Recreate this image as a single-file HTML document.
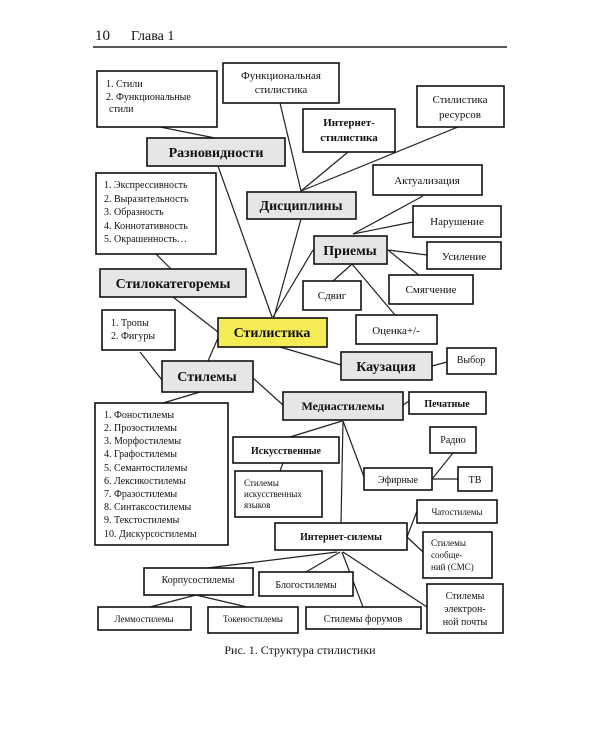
<!DOCTYPE html>
<html><head><meta charset="utf-8"><style>
html,body{margin:0;padding:0;background:#fff;}
svg{display:block;}
text{font-family:"Liberation Serif","Noto Serif CJK SC",serif;fill:#111;}
.b{font-weight:bold;font-size:14px;}
.m{font-size:11px;}
.s{font-size:10px;}
rect{stroke:#111;stroke-width:1.6;}
.w{fill:#fff;}
.g{fill:#e6e6e6;}
line{stroke:#222;stroke-width:1.2;}
</style></head><body>
<svg width="600" height="750" viewBox="0 0 600 750" xmlns="http://www.w3.org/2000/svg">
<text x="95" y="40" style="font-size:15px">10</text>
<text x="131" y="40" style="font-size:14px">Глава 1</text>
<line x1="93" y1="47" x2="507" y2="47" style="stroke-width:1.5"/>

<g>
<line x1="160" y1="127" x2="215" y2="138"/>
<line x1="218" y1="166" x2="272" y2="317"/>
<line x1="280" y1="103" x2="301" y2="191"/>
<line x1="348" y1="152" x2="301" y2="191"/>
<line x1="458" y1="127" x2="301" y2="191"/>
<line x1="301" y1="219" x2="274" y2="317"/>
<line x1="313" y1="250" x2="273" y2="317"/>
<line x1="423" y1="196" x2="353" y2="234"/>
<line x1="413" y1="222" x2="353" y2="234"/>
<line x1="388" y1="250" x2="427" y2="255"/>
<line x1="388" y1="250" x2="420" y2="276"/>
<line x1="352" y1="264" x2="333" y2="281"/>
<line x1="352" y1="264" x2="395" y2="315"/>
<line x1="156" y1="254" x2="171" y2="269"/>
<line x1="173" y1="297" x2="218" y2="332"/>
<line x1="140" y1="352" x2="162" y2="380"/>
<line x1="208" y1="361" x2="218" y2="338"/>
<line x1="280" y1="347" x2="341" y2="365"/>
<line x1="432" y1="366" x2="447" y2="362"/>
<line x1="253" y1="378" x2="283" y2="405"/>
<line x1="200" y1="392" x2="163" y2="403"/>
<line x1="403" y1="405" x2="409" y2="401"/>
<line x1="342" y1="421" x2="290" y2="437"/>
<line x1="343" y1="421" x2="341" y2="523"/>
<line x1="343" y1="421" x2="364" y2="477"/>
<line x1="283" y1="463" x2="280" y2="471"/>
<line x1="432" y1="479" x2="453" y2="453"/>
<line x1="432" y1="479" x2="458" y2="479"/>
<line x1="407" y1="537" x2="417" y2="511"/>
<line x1="407" y1="537" x2="423" y2="552"/>
<line x1="337" y1="552" x2="207" y2="568"/>
<line x1="340" y1="552" x2="306" y2="572"/>
<line x1="342" y1="552" x2="363" y2="607"/>
<line x1="343" y1="552" x2="427" y2="607"/>
<line x1="196" y1="595" x2="150" y2="607"/>
<line x1="196" y1="595" x2="247" y2="607"/>
</g>

<rect class="w" x="97" y="71" width="120" height="56"/>
<text class="s" x="106" y="87">1. Стили</text>
<text class="s" x="106" y="100">2. Функциональные</text>
<text class="s" x="109" y="112">стили</text>

<rect class="w" x="223" y="63" width="116" height="40"/>
<text class="m" x="281" y="79" text-anchor="middle">Функциональная</text>
<text class="m" x="281" y="93" text-anchor="middle">стилистика</text>

<rect class="w" x="303" y="109" width="92" height="43"/>
<text class="m" x="349" y="126" text-anchor="middle" font-weight="bold">Интернет-</text>
<text class="m" x="349" y="141" text-anchor="middle" font-weight="bold">стилистика</text>

<rect class="w" x="417" y="86" width="87" height="41"/>
<text class="m" x="460" y="103" text-anchor="middle">Стилистика</text>
<text class="m" x="460" y="118" text-anchor="middle">ресурсов</text>

<rect class="g" x="147" y="138" width="138" height="28"/>
<text class="b" x="216" y="157" text-anchor="middle">Разновидности</text>

<rect class="w" x="96" y="173" width="120" height="81"/>
<text class="s" x="104" y="188">1. Экспрессивность</text>
<text class="s" x="104" y="202">2. Выразительность</text>
<text class="s" x="104" y="215">3. Образность</text>
<text class="s" x="104" y="229">4. Коннотативность</text>
<text class="s" x="104" y="242">5. Окрашенность…</text>

<rect class="g" x="247" y="192" width="109" height="27"/>
<text class="b" x="301" y="210" text-anchor="middle">Дисциплины</text>

<rect class="w" x="373" y="165" width="109" height="30"/>
<text class="m" x="427" y="184" text-anchor="middle">Актуализация</text>

<rect class="w" x="413" y="206" width="88" height="31"/>
<text class="m" x="457" y="225" text-anchor="middle">Нарушение</text>

<rect class="g" x="314" y="236" width="73" height="28"/>
<text class="b" x="350" y="255" text-anchor="middle">Приемы</text>

<rect class="w" x="427" y="242" width="74" height="27"/>
<text class="m" x="464" y="260" text-anchor="middle">Усиление</text>

<rect class="g" x="100" y="269" width="146" height="28"/>
<text class="b" x="173" y="288" text-anchor="middle">Стилокатегоремы</text>

<rect class="w" x="303" y="281" width="58" height="29"/>
<text class="m" x="332" y="299" text-anchor="middle">Сдвиг</text>

<rect class="w" x="389" y="275" width="84" height="29"/>
<text class="m" x="431" y="293" text-anchor="middle">Смягчение</text>

<rect class="w" x="102" y="310" width="73" height="40"/>
<text class="s" x="111" y="326">1. Тропы</text>
<text class="s" x="111" y="339">2. Фигуры</text>

<rect x="218" y="318" width="109" height="29" style="fill:#f6ec55"/>
<text class="b" x="272" y="337" text-anchor="middle">Стилистика</text>

<rect class="w" x="356" y="315" width="81" height="29"/>
<text class="m" x="396" y="334" text-anchor="middle">Оценка+/-</text>

<rect class="g" x="341" y="352" width="91" height="28"/>
<text class="b" x="386" y="371" text-anchor="middle">Каузация</text>

<rect class="w" x="447" y="348" width="49" height="26"/>
<text class="s" x="471" y="363" text-anchor="middle">Выбор</text>

<rect class="g" x="162" y="361" width="91" height="31"/>
<text class="b" x="207" y="381" text-anchor="middle">Стилемы</text>

<rect class="g" x="283" y="392" width="120" height="28"/>
<text x="343" y="410" text-anchor="middle" style="font-size:12px;font-weight:bold">Медиастилемы</text>

<rect class="w" x="409" y="392" width="77" height="22"/>
<text class="s" x="447" y="407" text-anchor="middle" font-weight="bold">Печатные</text>

<rect class="w" x="95" y="403" width="133" height="142"/>
<text class="s" x="104" y="418">1. Фоностилемы</text>
<text class="s" x="104" y="431">2. Прозостилемы</text>
<text class="s" x="104" y="444">3. Морфостилемы</text>
<text class="s" x="104" y="457">4. Графостилемы</text>
<text class="s" x="104" y="471">5. Семантостилемы</text>
<text class="s" x="104" y="484">6. Лексикостилемы</text>
<text class="s" x="104" y="497">7. Фразостилемы</text>
<text class="s" x="104" y="510">8. Синтаксостилемы</text>
<text class="s" x="104" y="523">9. Текстостилемы</text>
<text class="s" x="104" y="537">10. Дискурсостилемы</text>

<rect class="w" x="233" y="437" width="106" height="26"/>
<text class="s" x="286" y="454" text-anchor="middle" font-weight="bold">Искусственные</text>

<rect class="w" x="430" y="427" width="46" height="26"/>
<text class="s" x="453" y="443" text-anchor="middle">Радио</text>

<rect class="w" x="235" y="471" width="87" height="46"/>
<text x="244" y="486" style="font-size:9px">Стилемы</text>
<text x="244" y="497" style="font-size:9px">искусственных</text>
<text x="244" y="508" style="font-size:9px">языков</text>

<rect class="w" x="364" y="468" width="68" height="22"/>
<text class="s" x="398" y="483" text-anchor="middle">Эфирные</text>

<rect class="w" x="458" y="467" width="34" height="24"/>
<text class="s" x="475" y="483" text-anchor="middle">ТВ</text>

<rect class="w" x="417" y="500" width="80" height="23"/>
<text x="457" y="515" text-anchor="middle" style="font-size:9px">Чатостилемы</text>

<rect class="w" x="275" y="523" width="132" height="27"/>
<text class="s" x="341" y="540" text-anchor="middle" font-weight="bold">Интернет-силемы</text>

<rect class="w" x="423" y="532" width="69" height="46"/>
<text x="431" y="546" style="font-size:9px">Стилемы</text>
<text x="431" y="558" style="font-size:9px">сообще-</text>
<text x="431" y="570" style="font-size:9px">ний (СМС)</text>

<rect class="w" x="144" y="568" width="109" height="27"/>
<text class="s" x="198" y="583" text-anchor="middle">Корпусостилемы</text>

<rect class="w" x="259" y="572" width="94" height="24"/>
<text class="s" x="306" y="588" text-anchor="middle">Блогостилемы</text>

<rect class="w" x="427" y="584" width="76" height="49"/>
<text class="s" x="465" y="599" text-anchor="middle">Стилемы</text>
<text class="s" x="465" y="612" text-anchor="middle">электрон-</text>
<text class="s" x="465" y="625" text-anchor="middle">ной почты</text>

<rect class="w" x="98" y="607" width="93" height="23"/>
<text x="144" y="622" text-anchor="middle" style="font-size:9px">Леммостилемы</text>

<rect class="w" x="208" y="607" width="90" height="26"/>
<text x="253" y="622" text-anchor="middle" style="font-size:9px">Токеностилемы</text>

<rect class="w" x="306" y="607" width="115" height="22"/>
<text class="s" x="363" y="622" text-anchor="middle">Стилемы форумов</text>

<text x="300" y="654" text-anchor="middle" style="font-size:12px">Рис. 1. Структура стилистики</text>
</svg>
</body></html>
